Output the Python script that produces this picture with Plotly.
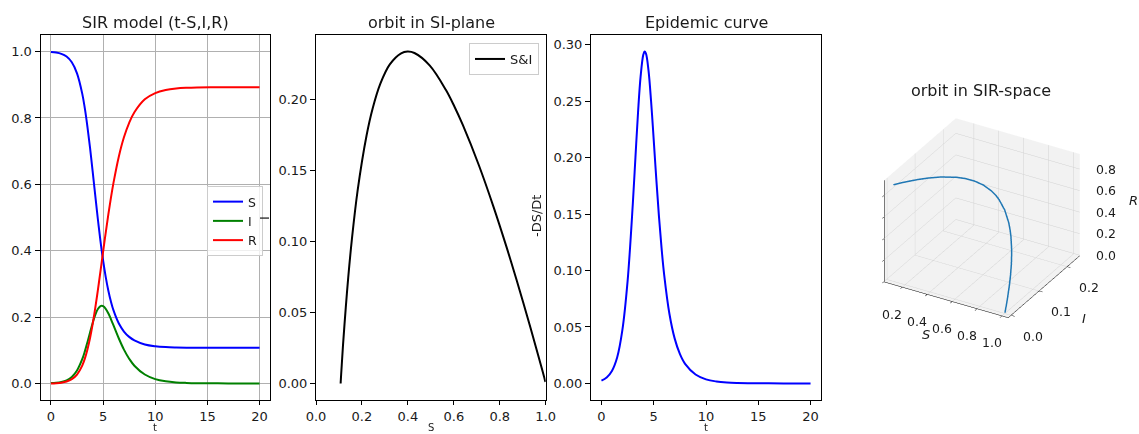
import plotly.graph_objects as go

# ---- data ----
t = [0, 0.5, 1, 1.5, 2, 2.5, 3, 3.25, 3.5, 3.75, 4, 4.125, 4.25, 4.5, 4.75, 4.875,
     5, 5.25, 5.5, 5.75, 6, 6.5, 7, 7.5, 8, 9, 10, 11, 12, 13, 14, 16, 18, 20]
S = [0.999, 0.9971, 0.9932, 0.9850, 0.9678, 0.9344, 0.8733, 0.8286, 0.7732, 0.7095,
     0.6391, 0.6025, 0.5658, 0.4947, 0.4286, 0.3986, 0.3706, 0.3213, 0.2802, 0.2469,
     0.2201, 0.1813, 0.1564, 0.1402, 0.1296, 0.1175, 0.1121, 0.1095, 0.1083, 0.1077,
     0.1075, 0.1073, 0.1072, 0.1072]
I = [0.0010, 0.0021, 0.0045, 0.0094, 0.0195, 0.0389, 0.0729, 0.0966, 0.1243, 0.1536,
     0.1822, 0.1952, 0.2068, 0.2242, 0.2329, 0.2339, 0.2327, 0.2249, 0.2113, 0.1940,
     0.1748, 0.1361, 0.1019, 0.0744, 0.0534, 0.0268, 0.0130, 0.0063, 0.0030, 0.0015,
     0.0007, 0.0002, 0.00004, 0.00001]
R = [0.0, 0.00074, 0.00232, 0.00565, 0.0127, 0.0267, 0.0538, 0.0748, 0.1025, 0.1369,
     0.1787, 0.2023, 0.2274, 0.2811, 0.3385, 0.3675, 0.3967, 0.4538, 0.5085, 0.5591,
     0.6051, 0.6826, 0.7417, 0.7854, 0.8170, 0.8562, 0.8750, 0.8842, 0.8887, 0.8908,
     0.8918, 0.8926, 0.8928, 0.8928]
dSdt = [0.0025, 0.0053, 0.0111, 0.0230, 0.0472, 0.0906, 0.1592, 0.2001, 0.2403, 0.2724,
        0.2911, 0.2940, 0.2925, 0.2773, 0.2496, 0.2331, 0.2156, 0.1806, 0.1480, 0.1198,
        0.0962, 0.0617, 0.0399, 0.0261, 0.0173, 0.0079, 0.0036, 0.0017, 0.0008, 0.0004,
        0.0002, 0.00004, 0.00001, 0.000002]

S_ticks = [0.2, 0.4, 0.6, 0.8, 1.0]
I_ticks = [0.0, 0.1, 0.2]
R_ticks = [0.0, 0.2, 0.4, 0.6, 0.8]
S_range = [0.055, 1.05]
I_range = [-0.01, 0.245]
R_range = [-0.005, 0.94]

W, H = 1139, 434
FONT = "DejaVu Sans"
TXT = "#1a1a1a"

def px(x):
    return x / W

def py(y):
    return 1 - y / H

fig = go.Figure()

line_kw = dict(mode="lines", line_shape="spline")
fig.add_trace(go.Scatter(x=t, y=S, name="S", line=dict(color="blue", width=2),
                         xaxis="x", yaxis="y", legend="legend", **line_kw))
fig.add_trace(go.Scatter(x=t, y=I, name="I", line=dict(color="green", width=2),
                         xaxis="x", yaxis="y", legend="legend", **line_kw))
fig.add_trace(go.Scatter(x=t, y=R, name="R", line=dict(color="red", width=2),
                         xaxis="x", yaxis="y", legend="legend", **line_kw))
fig.add_trace(go.Scatter(x=S, y=I, name="S&I", line=dict(color="black", width=2),
                         xaxis="x2", yaxis="y2", legend="legend2", **line_kw))
fig.add_trace(go.Scatter(x=t, y=dSdt, name="-DS/Dt", line=dict(color="blue", width=2),
                         xaxis="x3", yaxis="y3", showlegend=False, **line_kw))
fig.add_trace(go.Scatter3d(x=S, y=I, z=R, mode="lines", showlegend=False,
                           line=dict(color="#1f77b4", width=3), scene="scene"))

def ax(domain, rng, tickvals, fmt, anchor, grid=False, tl=5):
    return dict(domain=domain, range=rng, tickvals=tickvals, tickformat=fmt,
                anchor=anchor, showline=True, mirror=True, linecolor="black",
                linewidth=1, ticks="outside", ticklen=tl, tickwidth=1,
                tickcolor="black", zeroline=False, showgrid=grid, automargin=False,
                gridcolor="#b0b0b0", gridwidth=1,
                tickfont=dict(family=FONT, size=13, color=TXT))

ytop, ybot = py(35), py(400)
d1 = [px(40.5), px(270)]
d2 = [px(316), px(545.7)]
d3 = [px(591), px(821)]

fig.update_layout(
    width=W, height=H, margin=dict(l=0, r=0, t=0, b=0, autoexpand=False),
    paper_bgcolor="white", plot_bgcolor="white",
    font=dict(family=FONT, color=TXT),
    xaxis=ax(d1, [-1, 21], [0, 5, 10, 15, 20], "d", "y", grid=True, tl=4),
    yaxis=ax([ybot, ytop], [-0.05, 1.05], [0, 0.2, 0.4, 0.6, 0.8, 1.0], ".1f", "x", grid=True),
    xaxis2=ax(d2, [0, 1], [0, 0.2, 0.4, 0.6, 0.8, 1.0], ".1f", "y2", tl=4),
    yaxis2=ax([ybot, ytop], [-0.0117, 0.2456], [0, 0.05, 0.1, 0.15, 0.2], ".2f", "x2"),
    xaxis3=ax(d3, [-1, 21], [0, 5, 10, 15, 20], "d", "y3", tl=4),
    yaxis3=ax([ybot, ytop], [-0.0147, 0.3087], [0, 0.05, 0.1, 0.15, 0.2, 0.25, 0.3], ".2f", "x3"),
    legend=dict(x=px(263), y=py(186), xanchor="right", yanchor="top",
                bgcolor="rgba(255,255,255,0.8)", bordercolor="#cccccc", borderwidth=1,
                font=dict(family=FONT, size=12.5, color=TXT), tracegroupgap=0),
    legend2=dict(x=px(539), y=py(43), xanchor="right", yanchor="top",
                 bgcolor="rgba(255,255,255,0.8)", bordercolor="#cccccc", borderwidth=1,
                 font=dict(family=FONT, size=13, color=TXT)),
)

def sax(tickvals, rng):
    return dict(title=dict(text=""), tickvals=tickvals, range=rng,
                showticklabels=False, autorange=False,
                showbackground=True, backgroundcolor="rgb(242,242,242)",
                gridcolor="rgb(210,210,210)", gridwidth=1, zeroline=False,
                showline=True, linecolor="black", linewidth=1, ticks="outside",
                ticklen=4, tickcolor="black", showspikes=False)

# 3D tick labels and axis titles, placed at the tick values through the scene
s_ann = []
def SA(text, x, y, z, dx, dy, size=12.5, italic=False):
    s_ann.append(dict(x=x, y=y, z=z, text=f"<i>{text}</i>" if italic else text,
                      showarrow=False, xshift=dx, yshift=dy,
                      xanchor="center", yanchor="middle",
                      font=dict(family=FONT, size=size, color=TXT)))

for v in S_ticks:
    SA(f"{v:.1f}", v, I_range[0], R_range[0], -10, -27)
for v in I_ticks:
    SA(f"{v:.1f}", S_range[1], v, R_range[0], 22, -21)
for v in R_ticks:
    SA(f"{v:.1f}", S_range[1], I_range[1], v, 26, 0)
SA("S", 0.5, I_range[0], R_range[0], -14, -37, size=13, italic=True)
SA("I", S_range[1], 0.1, R_range[0], 45, -28, size=13, italic=True)
SA("R", S_range[1], I_range[1], 0.4, 54, 12, size=13, italic=True)

cy = 218
fig.update_layout(scene=dict(
    domain=dict(x=[px(857), px(1107)], y=[py(cy + 135), py(cy - 135)]),
    xaxis=sax(S_ticks, S_range),
    yaxis=sax(I_ticks, I_range),
    zaxis=sax(R_ticks, R_range),
    aspectmode="manual", aspectratio=dict(x=1.06, y=1.06, z=0.87),
    camera=dict(eye=dict(x=0.902, y=-1.5625, z=1.0417), center=dict(x=0, y=0, z=0),
                up=dict(x=0, y=0, z=1), projection=dict(type="orthographic")),
    annotations=s_ann,
))

ann = []
def A(text, x, y, size=13, angle=0, xa="center", ya="middle", pad=1):
    ann.append(dict(text=text, x=px(x), y=py(y), xref="paper", yref="paper",
                    showarrow=False, textangle=angle, xanchor=xa, yanchor=ya,
                    borderpad=pad, font=dict(family=FONT, size=size, color=TXT)))

A("SIR model (t-S,I,R)", 155, 22, size=16)
A("orbit in SI-plane", 431, 22, size=16)
A("Epidemic curve", 706, 22, size=16)
A("orbit in SIR-space", 981, 90, size=16)
A("t", 155, 434, size=10, ya="bottom", pad=0)
A("S", 431, 434, size=10, ya="bottom", pad=0)
A("t", 706, 434, size=10, ya="bottom", pad=0)
A("I", 264, 218, angle=-90)
A("-DS/Dt", 536, 216, angle=-90)
fig.update_layout(annotations=ann)

fig.write_html("out.html")
